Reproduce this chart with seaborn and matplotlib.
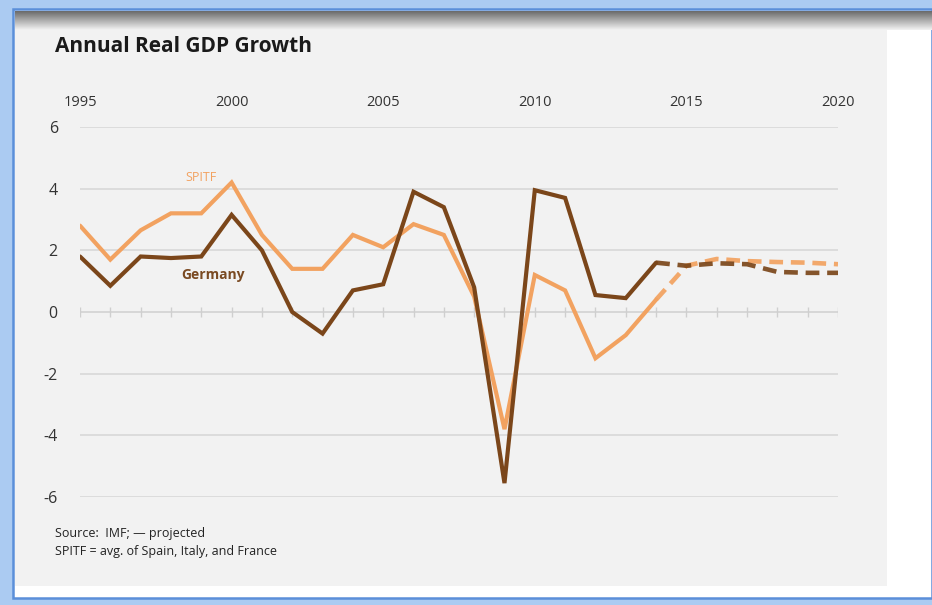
import numpy as np
import pandas as pd
import matplotlib
matplotlib.use("Agg")
import matplotlib.pyplot as plt
from matplotlib.patches import Rectangle
from matplotlib.colors import LinearSegmentedColormap
import seaborn as sns

# ---- data ----
years_hist = list(range(1995, 2015))
germany_hist = [1.8, 0.85, 1.8, 1.75, 1.8, 3.15, 2.0, 0.0, -0.7, 0.7,
                0.9, 3.9, 3.4, 0.8, -5.55, 3.95, 3.7, 0.55, 0.45, 1.6]
spitf_hist = [2.8, 1.7, 2.65, 3.2, 3.2, 4.2, 2.5, 1.4, 1.4, 2.5,
              2.1, 2.85, 2.5, 0.5, -3.8, 1.2, 0.7, -1.5, -0.75, 0.4]
years_proj = list(range(2014, 2021))
germany_proj = [1.6, 1.5, 1.58, 1.55, 1.3, 1.27, 1.27]
spitf_proj = [0.4, 1.5, 1.72, 1.65, 1.62, 1.6, 1.55]
x_ticks = [1995, 2000, 2005, 2010, 2015, 2020]
y_ticks = [6, 4, 2, 0, -2, -4, -6]

title = "Annual Real GDP Growth"
source_lines = ["Source:  IMF; \u2014 projected", "SPITF = avg. of Spain, Italy, and France"]

C_GER = "#7b461a"
C_SPI = "#f2a260"

sns.set_theme(style="white")
plt.rcParams['font.family'] = ['Open Sans', 'DejaVu Sans']

W, H = 932, 605
fig = plt.figure(figsize=(W / 100, H / 100), dpi=100)
fig.patch.set_facecolor("white")

# ---- frame / background (pixel coords) ----
bg = fig.add_axes([0, 0, 1, 1], zorder=0)
bg.set_xlim(0, W)
bg.set_ylim(H, 0)
bg.axis("off")
bg.add_patch(Rectangle((0, 0), W, H, color="#abcbf2", lw=0))
bg.add_patch(Rectangle((13, 9), W - 13, 589, facecolor="white", edgecolor="#5b8fd9", lw=1.8))
bg.add_patch(Rectangle((15, 11), 872, 575, color="#f2f2f2", lw=0))
grad = np.linspace(0, 1, 60).reshape(-1, 1)
cm = LinearSegmentedColormap.from_list("sh", ["#6a6a6a", "#f2f2f2"])
bg.imshow(grad, extent=(15, W, 30, 11), cmap=cm, aspect="auto", zorder=2)

# ---- main axes ----
x0, x1 = 80, 838
y0, y1 = 127, 497
ax = fig.add_axes([x0 / W, 1 - y1 / H, (x1 - x0) / W, (y1 - y0) / H], zorder=1)
ax.set_facecolor("none")

df_hist = pd.DataFrame({
    "year": years_hist * 2,
    "value": germany_hist + spitf_hist,
    "series": ["Germany"] * len(years_hist) + ["SPITF"] * len(years_hist),
})
df_proj = pd.DataFrame({
    "year": years_proj * 2,
    "value": germany_proj + spitf_proj,
    "series": ["Germany"] * len(years_proj) + ["SPITF"] * len(years_proj),
})
pal = {"Germany": C_GER, "SPITF": C_SPI}

for yv in y_ticks:
    if yv != 0:
        ax.axhline(yv, color="#d6d6d6", lw=1.1, zorder=0)
ax.axhline(0, color="#cfcfcf", lw=1.1, zorder=0)
ax.vlines(list(range(1995, 2021)), -0.17, 0.17, color="#cfcfcf", lw=1.0, zorder=0)

sns.lineplot(data=df_hist, x="year", y="value", hue="series", palette=pal,
             hue_order=["SPITF", "Germany"], lw=3, ax=ax, legend=False,
             solid_capstyle="round", solid_joinstyle="miter")
sns.lineplot(data=df_proj, x="year", y="value", hue="series", palette=pal,
             hue_order=["SPITF", "Germany"], lw=3.3, ax=ax, legend=False)
for ln in ax.lines[-2:]:
    ln.set_dashes((3.0, 1.7))
    ln.set_alpha(0.92)

ax.set_xlim(1995, 2020)
ax.set_ylim(-6, 6)
ax.set_xlabel("")
ax.set_ylabel("")
for s in ax.spines.values():
    s.set_visible(False)
ax.xaxis.tick_top()
ax.set_xticks(x_ticks)
ax.set_xticklabels([str(v) for v in x_ticks], fontsize=10.5, color="#333333")
ax.set_yticks(y_ticks)
ax.set_yticklabels([str(v) for v in y_ticks], fontsize=11.5, color="#333333")
ax.tick_params(axis="x", length=0, pad=12)
ax.tick_params(axis="y", length=0, pad=16)
ax.grid(False)

ax.text(1999.0, 4.35, "SPITF", color=C_SPI, fontsize=9, ha="center", va="center")
ax.text(1999.4, 1.2, "Germany", color="#7a4a22", fontsize=10, ha="center",
        va="center", fontweight="bold")

fig.text(55 / W, 1 - 47 / H, title, fontsize=15, fontweight="bold",
         color="#1a1a1a", ha="left", va="center")
fig.text(55 / W, 1 - 533 / H, source_lines[0], fontsize=9, color="#222222",
         ha="left", va="center")
fig.text(55 / W, 1 - 551 / H, source_lines[1], fontsize=9, color="#222222",
         ha="left", va="center")

fig.savefig("out.png", dpi=100)
